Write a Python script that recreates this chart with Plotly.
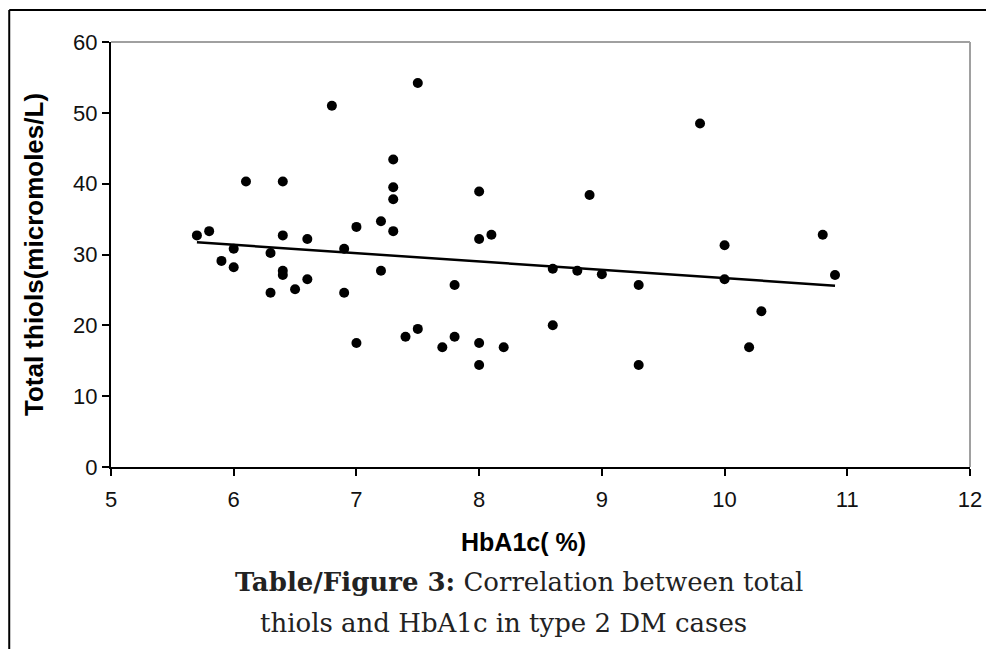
import numpy as np
import plotly.graph_objects as go

hba1c = [5.7, 5.8, 5.9, 6.0, 6.0, 6.1, 6.3, 6.3, 6.4, 6.4, 6.4, 6.4, 6.5, 6.6, 6.6,
         6.8, 6.9, 6.9, 7.0, 7.0, 7.2, 7.2, 7.3, 7.3, 7.3, 7.3, 7.4, 7.5, 7.5, 7.7,
         7.8, 7.8, 8.0, 8.0, 8.0, 8.0, 8.1, 8.2, 8.6, 8.6, 8.8, 8.9, 9.0, 9.3, 9.3,
         9.8, 10.0, 10.0, 10.2, 10.3, 10.8, 10.9]
thiols = [32.7, 33.3, 29.1, 30.8, 28.2, 40.3, 30.2, 24.6, 40.3, 32.7, 27.7, 27.1, 25.1, 32.2, 26.5,
          51.0, 30.8, 24.6, 33.9, 17.5, 34.7, 27.7, 43.4, 39.5, 37.8, 33.3, 18.4, 54.2, 19.5, 16.9,
          25.7, 18.4, 38.9, 32.2, 17.5, 14.4, 32.8, 16.9, 28.0, 20.0, 27.7, 38.4, 27.2, 25.7, 14.4,
          48.5, 31.3, 26.5, 16.9, 22.0, 32.8, 27.1]

x_ticks = [5, 6, 7, 8, 9, 10, 11, 12]
y_ticks = [0, 10, 20, 30, 40, 50, 60]

slope, intercept = np.polyfit(hba1c, thiols, 1)
trend_x = [min(hba1c), max(hba1c)]
trend_y = [slope * v + intercept for v in trend_x]

# page body has an 8px margin; figure is sized/offset to compensate
L, T, PW, PH = 103, 34, 861, 425
W, H = 986, 641

fig = go.Figure()
fig.add_trace(go.Scatter(x=trend_x, y=trend_y, mode="lines",
                         line=dict(color="black", width=2.5), showlegend=False))
fig.add_trace(go.Scatter(x=hba1c, y=thiols, mode="markers",
                         marker=dict(color="black", size=10, symbol="circle"),
                         showlegend=False))

tick_font = dict(family="Liberation Sans, Arial, sans-serif", size=22, color="#111")
fig.update_layout(
    width=W, height=H,
    margin=dict(l=L, r=W - L - PW, t=T, b=H - T - PH),
    paper_bgcolor="white", plot_bgcolor="white",
    showlegend=False,
    xaxis=dict(range=[5, 12], tickvals=x_ticks, showgrid=False, zeroline=False,
               showline=True, linecolor="black", linewidth=2,
               ticks="outside", ticklen=7, tickcolor="black", tickwidth=2,
               ticklabelstandoff=5, tickfont=tick_font),
    yaxis=dict(range=[0, 60], tickvals=y_ticks, showgrid=False, zeroline=False,
               showline=True, linecolor="black", linewidth=2,
               ticks="outside", ticklen=7, tickcolor="black", tickwidth=2,
               tickfont=tick_font,
               title=dict(text="<b>Total thiols(micromoles/L)</b>",
                          font=dict(family="Liberation Sans, Arial, sans-serif", size=26, color="black"),
                          standoff=22)),
)

def px_x(p):
    return (p - 8 - L) / PW

def px_y(p):
    return (T + PH - (p - 8)) / PH

# plot-area frame (gray top and right)
fig.add_shape(type="line", xref="paper", yref="paper", x0=0, x1=1, y0=1, y1=1,
              line=dict(color="#a0a0a0", width=2))
fig.add_shape(type="line", xref="paper", yref="paper", x0=1, x1=1, y0=0, y1=1,
              line=dict(color="#a0a0a0", width=2))
# outer black frame (top and left)
fig.add_shape(type="line", xref="paper", yref="paper", x0=px_x(9), x1=1.2, y0=px_y(10), y1=px_y(10),
              line=dict(color="black", width=2))
fig.add_shape(type="line", xref="paper", yref="paper", x0=px_x(9), x1=px_x(9), y0=px_y(700), y1=px_y(10),
              line=dict(color="black", width=2))

fig.add_annotation(text="<b>HbA1c( %)</b>", xref="paper", yref="paper",
                   x=px_x(524), y=px_y(542), showarrow=False,
                   xanchor="center", yanchor="middle",
                   font=dict(family="Liberation Sans, Arial, sans-serif", size=25, color="black"))
cap_font = dict(family="DejaVu Serif, serif", size=26, color="#222")
fig.add_annotation(text="<b>Table/Figure 3:</b> Correlation between total", xref="paper", yref="paper",
                   x=px_x(520), y=px_y(582), showarrow=False,
                   xanchor="center", yanchor="middle", font=cap_font)
fig.add_annotation(text="thiols and HbA1c in type 2 DM cases", xref="paper", yref="paper",
                   x=px_x(504), y=px_y(623), showarrow=False,
                   xanchor="center", yanchor="middle", font=cap_font)

fig.write_html("out.html")
